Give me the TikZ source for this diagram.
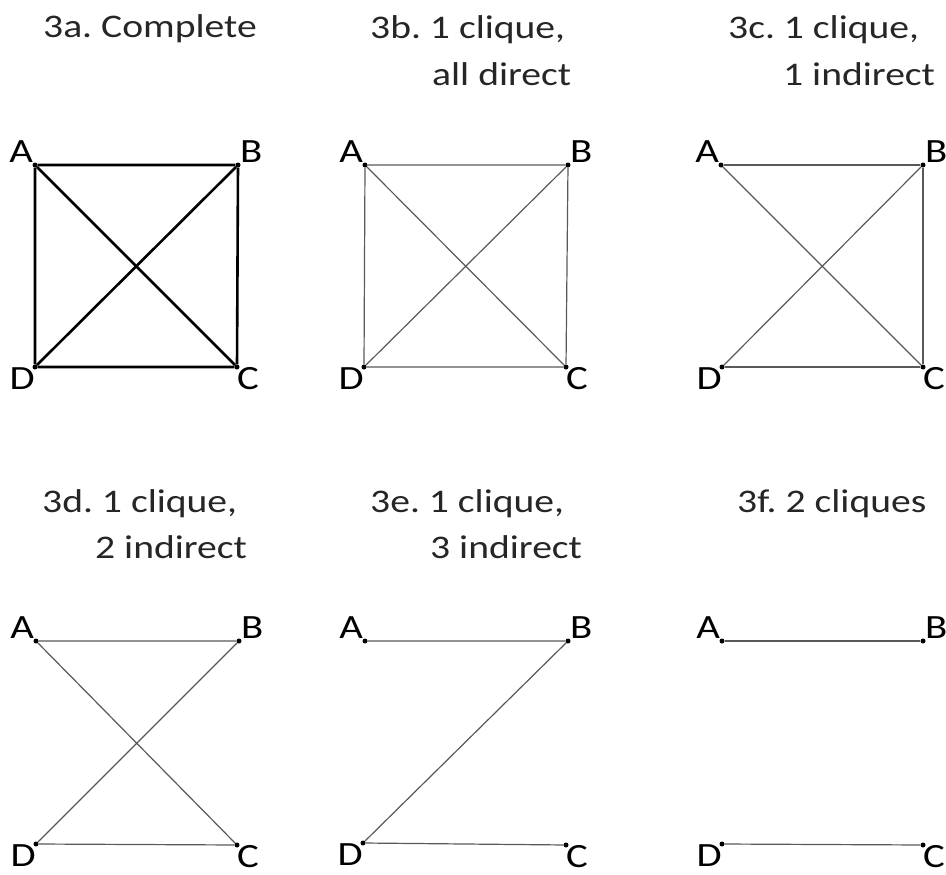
\documentclass[tikz,border=0pt]{standalone}
\usepackage{fontspec}
\setmainfont{Carlito}[FakeStretch=1.2]
\usetikzlibrary{positioning}
\frenchspacing

\begin{document}
\begin{tikzpicture}[
  x=1pt, y=-1pt,
  vert/.style={circle, fill=black, inner sep=0pt, minimum size=5pt, label distance=2pt},
  lbl/.style={font=\fontsize{34}{34}\selectfont, inner sep=0pt},
  vA/.style={vert, label={[lbl, anchor=south east]135:A}},
  vB/.style={vert, label={[lbl, anchor=south west]45:B}},
  vC/.style={vert, label={[lbl, anchor=north west, yshift=2pt]-90:C}},
  vD/.style={vert, label={[lbl, anchor=north east, yshift=2pt]-90:D}},
  ttl/.style={font=\fontsize{33}{38}\selectfont, inner sep=0pt, anchor=base west, text=black!85},
  link/.style={black!65, line width=1.2pt},
  strong/.style={black, line width=2.6pt}
]
\useasboundingbox (0,0) rectangle (946,875);

% 3a - complete graph
\node[ttl] (ta) at (43,38) {3a. Complete};
\node[vA] (aA) at (35,165) {};
\node[vB] (aB) at (238,165) {};
\node[vC] (aC) at (237,367) {};
\node[vD] (aD) at (35,367) {};
\draw[strong] (aA) -- (aB) -- (aC) -- (aD) -- (aA);
\draw[strong] (aA) -- (aC);
\draw[strong] (aB) -- (aD);

% 3b - 1 clique, all direct
\node[ttl] (tb1) at (370,39) {3b. 1 clique,};
\node[ttl] (tb2) at (432,85) {all direct};
\node[vA] (bA) at (365,165) {};
\node[vB] (bB) at (568,165) {};
\node[vC] (bC) at (566,367) {};
\node[vD] (bD) at (364,367) {};
\draw[link] (bA) -- (bB) -- (bC) -- (bD) -- (bA);
\draw[link] (bA) -- (bC);
\draw[link] (bB) -- (bD);

% 3c - 1 clique, 1 indirect
\node[ttl] (tc1) at (728,39) {3c. 1 clique,};
\node[ttl] (tc2) at (783,86) {1 indirect};
\node[vA] (cA) at (721,165) {};
\node[vB] (cB) at (923,165) {};
\node[vC] (cC) at (923,367) {};
\node[vD] (cD) at (722,367) {};
\draw[link] (cA) -- (cB) -- (cC) -- (cD);
\draw[link] (cA) -- (cC);
\draw[link] (cB) -- (cD);

% 3d - 1 clique, 2 indirect
\node[ttl] (td1) at (42,512) {3d. 1 clique,};
\node[ttl] (td2) at (95,558) {2 indirect};
\node[vA] (dA) at (36,641) {};
\node[vB] (dB) at (239,641) {};
\node[vC] (dC) at (237,845) {};
\node[vD] (dD) at (36,844) {};
\draw[link] (dA) -- (dB) -- (dD) -- (dC) -- (dA);

% 3e - 1 clique, 3 indirect
\node[ttl] (te1) at (370,512) {3e. 1 clique,};
\node[ttl] (te2) at (430,558) {3 indirect};
\node[vA] (eA) at (365,641) {};
\node[vB] (eB) at (568,641) {};
\node[vC] (eC) at (566,845) {};
\node[vD] (eD) at (363,843) {};
\draw[link] (eA) -- (eB) -- (eD) -- (eC);

% 3f - 2 cliques
\node[ttl] (tf) at (737,512) {3f. 2 cliques};
\node[vA] (fA) at (722,641) {};
\node[vB] (fB) at (923,641) {};
\node[vC] (fC) at (923,845) {};
\node[vD] (fD) at (722,844) {};
\draw[link] (fA) -- (fB);
\draw[link] (fD) -- (fC);

\end{tikzpicture}
\end{document}
